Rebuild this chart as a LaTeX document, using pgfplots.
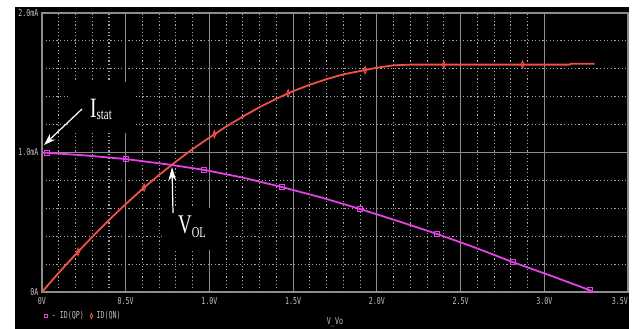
\documentclass[border=0pt]{standalone}
\usepackage{pgfplots}
\pgfplotsset{compat=1.18}
\usetikzlibrary{arrows.meta}
\usepackage{fontspec}
\newfontfamily\pixfont[FakeStretch=0.7]{DejaVu Sans Mono}
\newfontfamily\labfont[FakeStretch=0.7]{Liberation Serif}
\definecolor{qp}{RGB}{230,64,230}
\definecolor{qn}{RGB}{240,80,72}
\definecolor{gridc}{RGB}{165,165,165}
\definecolor{majc}{RGB}{140,140,140}
\definecolor{tickc}{RGB}{195,195,195}
\begin{document}
\begin{tikzpicture}
\fill[white] (0,0) rectangle (635bp,-329bp);
\fill[black] (15bp,-7bp) rectangle (629bp,-329bp);
\begin{axis}[at={(42bp,-292bp)}, anchor=south west, scale only axis,
  width=586bp, height=279bp,
  xmin=0, xmax=3.5, ymin=0, ymax=2,
  xtick={0,0.5,1.0,1.5,2.0,2.5,3.0},
  xticklabels={0V,0.5V,1.0V,1.5V,2.0V,2.5V,3.0V},
  extra x ticks={3.5}, extra x tick labels={3.5V},
  extra x tick style={grid=none, xticklabel style={anchor=north east, inner xsep=0pt}},
  minor x tick num=4,
  ytick={0,1,2}, yticklabels={0A,1.0mA,2.0mA},
  minor y tick num=4,
  grid=both,
  major grid style={majc, line width=1.2bp},
  minor grid style={gridc, line width=1.1bp, dash pattern=on 1.2bp off 2.4bp},
  axis line style={majc, line width=1.2bp},
  major tick length=0pt, minor tick length=0pt,
  ticklabel style={font=\pixfont\fontsize{9.5bp}{9.5bp}\selectfont, text=tickc},
  xticklabel style={yshift=-2bp},
  xlabel={V\_Vo},
  xlabel style={at={(axis description cs:0.5,-0.108)}, anchor=center,
    font=\pixfont\fontsize{9.5bp}{9.5bp}\selectfont, text=tickc},
  legend style={at={(axis description cs:0.0034,-0.086)}, anchor=west,
    draw=none, fill=none, text=tickc, inner sep=0pt,
    font=\pixfont\fontsize{9.5bp}{9.5bp}\selectfont,
    legend columns=2, nodes={inner sep=1.5bp},
    /tikz/every even column/.append style={column sep=5bp}},
  legend image code/.code={\draw[#1] plot coordinates {(0bp,0bp)};},
]
\addlegendimage{only marks, mark=square, qp, mark size=1.8bp, line width=0.8bp}
\addlegendentry{\hspace{2.5bp}- ID(QP)}
\addlegendimage{only marks, mark=diamond, qn, mark size=2.6bp, line width=0.8bp, mark options={xscale=0.6, fill=black}}
\addlegendentry{\hspace{2.5bp}ID(QN)}

% ID(QN)
\addplot[qn, line width=1.8bp, forget plot] coordinates {
(0,0) (0.1,0.138) (0.2,0.269) (0.3,0.395) (0.4,0.516) (0.5,0.630)
(0.6,0.739) (0.7,0.840) (0.8,0.935) (0.9,1.025) (1.0,1.107)
(1.1,1.186) (1.2,1.258) (1.3,1.325) (1.4,1.386) (1.5,1.440)
(1.6,1.486) (1.7,1.526) (1.8,1.560) (1.9,1.584) (2.0,1.608)
(2.1,1.625) (2.2,1.630) (3.15,1.630) (3.16,1.636) (3.30,1.636)};
\addplot[only marks, mark=diamond, qn, mark size=3.6bp, line width=0.9bp,
  mark options={xscale=0.55, fill=black}, forget plot] coordinates {
(0.215,0.287) (0.61,0.749) (1.03,1.131) (1.47,1.424) (1.93,1.59) (2.40,1.63) (2.87,1.63)};

% ID(QP)
\addplot[qp, line width=1.8bp, forget plot] coordinates {
(0,1.0) (0.25,0.980) (0.5,0.953) (0.75,0.915) (0.97,0.875) (1.2,0.820)
(1.43,0.753) (1.67,0.677) (1.90,0.595) (2.13,0.507) (2.36,0.416)
(2.59,0.317) (2.81,0.215) (3.05,0.112) (3.27,0.014) (3.29,0.0)};
\addplot[only marks, mark=square, qp, mark size=2.5bp, line width=0.9bp,
  mark options={fill=black}, forget plot] coordinates {
(0.03,0.998) (0.50,0.953) (0.968,0.875) (1.434,0.753) (1.90,0.595)
(2.36,0.416) (2.81,0.215) (3.27,0.014)};
\end{axis}
% label boxes
\fill[black] (70bp,-82bp) rectangle (133bp,-133bp);
\fill[black] (163bp,-208bp) rectangle (224bp,-250bp);
\node[anchor=base west, text=white, inner sep=0pt,
  font=\labfont\fontsize{28bp}{28bp}\selectfont] at (90bp,-117bp)
  {I\raisebox{-2bp}{\fontsize{15.5bp}{15.5bp}\selectfont stat}};
\node[anchor=base west, text=white, inner sep=0pt,
  font=\labfont\fontsize{27bp}{27bp}\selectfont] at (178bp,-233bp)
  {V\raisebox{-4bp}{\fontsize{15bp}{15bp}\selectfont OL}};
\draw[white, line width=1.2bp, -{Stealth[length=12bp,width=8bp]}] (82bp,-109bp) -- (44bp,-145bp);
\draw[white, line width=1.2bp, -{Stealth[length=14bp,width=8bp]}] (173bp,-213bp) -- (172bp,-167bp);
\pgfresetboundingbox
\path (0,0) rectangle (635bp,-329bp);
\end{tikzpicture}
\end{document}
